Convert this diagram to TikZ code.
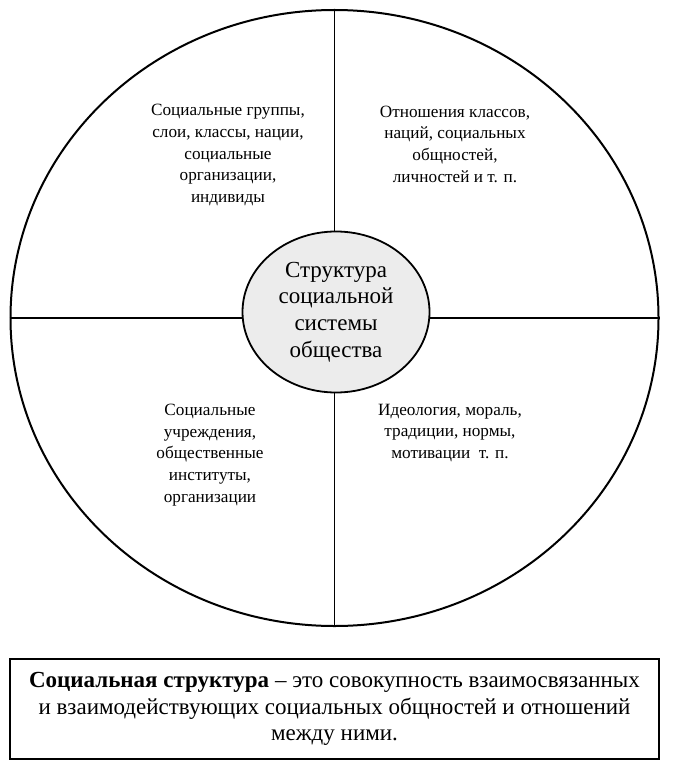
\documentclass[tikz,border=0pt]{standalone}
\usepackage{fontspec}
\setmainfont{Liberation Serif}
\usetikzlibrary{shapes.geometric}

\begin{document}
\begin{tikzpicture}[x=1pt, y=-1pt,
  part/.style = {align=center, font=\fontsize{17.2}{21.7}\selectfont}]
\useasboundingbox (0,0) rectangle (677,767);
\node[draw, ellipse, line width=2pt, minimum width=648, minimum height=616, inner sep=0pt](o) at (334.5,318){};
\draw[line width=1.6pt] (o.north) -- (o.south);
\draw[line width=1.6pt] (o.west) -- (o.east);
\node[draw, ellipse, fill=gray!15, line width=1.8pt, minimum width=187, minimum height=161, inner sep=0pt, align=center,
  font=\fontsize{23}{26.7}\selectfont](s) at (336,312){Структура\\социальной\\системы\\общества};
\node[part](g) at (228,155){Социальные группы,\\слои, классы, нации,\\социальные\\организации,\\индивиды};
\node[part](r) at (455,144){Отношения классов,\\наций, социальных\\общностей,\\личностей и т. п.};
\node[part](u) at (210,455){Социальные\\учреждения,\\общественные\\институты,\\организации};
\node[part](i) at (450,433){Идеология, мораль,\\традиции, нормы,\\мотивации \ т. п.};
\node[draw, line width=1.8pt, minimum width=649, minimum height=100, inner sep=0pt, align=center,
  font=\fontsize{23}{26.5}\selectfont](d) at (334.5,709)
  {\textbf{Социальная структура} – это совокупность взаимосвязанных\\и взаимодействующих социальных общностей и отношений\\между ними.};
\end{tikzpicture}
\end{document}
